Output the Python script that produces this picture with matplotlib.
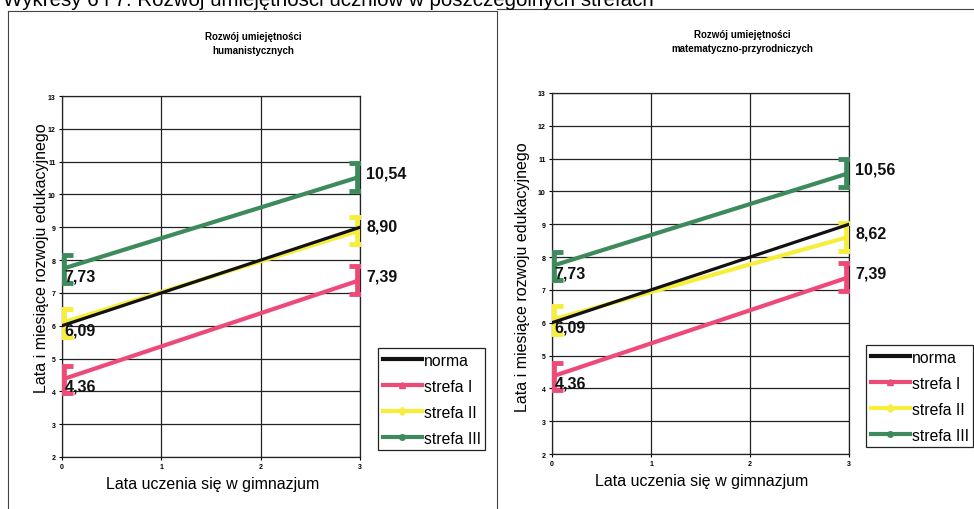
import matplotlib
matplotlib.use("Agg")
import matplotlib.pyplot as plt
from matplotlib.lines import Line2D

plt.rcParams['font.family'] = ['Liberation Sans', 'DejaVu Sans']

# ---- data ----
years = [0, 3]
series_names = ["norma", "strefa I", "strefa II", "strefa III"]
hum_norma = [6.0, 9.0]
hum_s1 = [4.36, 7.39]
hum_s2 = [6.09, 8.90]
hum_s3 = [7.73, 10.54]
mat_norma = [6.0, 9.0]
mat_s1 = [4.36, 7.39]
mat_s2 = [6.09, 8.62]
mat_s3 = [7.73, 10.56]
title_hum = "Rozwój umiejętności\nhumanistycznych"
title_mat = "Rozwój umiejętności\nmatematyczno-przyrodniczych"
header = "Wykresy 6 i 7. Rozwój umiejętności uczniów w poszczególnych strefach"
xlabel = "Lata uczenia się w gimnazjum"
ylabel = "Lata i miesiące rozwoju edukacyjnego"
yticks = list(range(2, 14))
xticks = [0, 1, 2, 3]

C_BLACK = "#111111"
C_PINK = "#EE4A78"
C_YEL = "#F6EE3A"
C_GREEN = "#3D8A5C"

W, H = 974, 510
fig = plt.figure(figsize=(W / 100, H / 100), dpi=100)


def fx(px):
    return px / W


def fy(py):
    return 1 - py / H


def make_panel(axbox, norma, s1, s2, s3):
    l, t, r, b = axbox
    ax = fig.add_axes([fx(l), fy(b), fx(r) - fx(l), fy(t) - fy(b)])
    ax.set_xlim(0, 3)
    ax.set_ylim(2, 13)
    ax.set_xticks(xticks)
    ax.set_yticks(yticks)
    ax.grid(True, color="#222222", linewidth=0.9)
    ax.set_axisbelow(True)
    for sp in ax.spines.values():
        sp.set_color("#222222")
        sp.set_linewidth(0.9)
    ax.tick_params(axis='both', labelsize=5, length=2.5, width=0.8, pad=2)
    for lab in ax.get_xticklabels() + ax.get_yticklabels():
        lab.set_fontweight('bold')
    ax.plot(years, norma, color=C_BLACK, linewidth=2.3, zorder=5)
    for vals, col in ((s1, C_PINK), (s2, C_YEL), (s3, C_GREEN)):
        ax.plot(years, vals, color=col, linewidth=3.0, zorder=4)
        ax.errorbar(years, vals, yerr=0.42, fmt='none', ecolor=col,
                    elinewidth=7, capsize=8, capthick=3.5, zorder=4)
        ax.annotate(f"{vals[0]:.2f}".replace('.', ','), (years[0], vals[0]),
                    xytext=(2, -5), textcoords='offset points',
                    ha='left', va='center', fontsize=11.5, fontweight='bold',
                    color="#111111", zorder=6, annotation_clip=False)
        ax.annotate(f"{vals[1]:.2f}".replace('.', ','), (years[1], vals[1]),
                    xytext=(4.5, 3), textcoords='offset points',
                    ha='left', va='center', fontsize=11.5, fontweight='bold',
                    color="#111111", zorder=6, annotation_clip=False)
    return ax


ax1 = make_panel((62, 97, 360, 458), hum_norma, hum_s1, hum_s2, hum_s3)
ax2 = make_panel((552, 94, 849, 455), mat_norma, mat_s1, mat_s2, mat_s3)

# titles
fig.text(fx(253), fy(44), title_hum, ha='center', va='center', fontsize=7,
         fontweight='bold', linespacing=1.6)
fig.text(fx(742), fy(42), title_mat, ha='center', va='center', fontsize=7,
         fontweight='bold', linespacing=1.6)

# axis labels
fig.text(fx(42), fy(258), ylabel, rotation=90, ha='center', va='center', fontsize=11.5)
fig.text(fx(522), fy(277), ylabel, rotation=90, ha='center', va='center', fontsize=11.5)
fig.text(fx(213), fy(485), xlabel, ha='center', va='center', fontsize=11.5)
fig.text(fx(702), fy(482), xlabel, ha='center', va='center', fontsize=11.5)

# legends
handles = [
    Line2D([], [], color=C_BLACK, linewidth=3),
    Line2D([], [], color=C_PINK, linewidth=3, marker='^', markersize=5),
    Line2D([], [], color=C_YEL, linewidth=3, marker='D', markersize=4),
    Line2D([], [], color=C_GREEN, linewidth=3, marker='o', markersize=4),
]
for (lx, ly) in ((378, 349), (866, 346)):
    leg = fig.legend(handles, series_names, loc='upper left',
                     bbox_to_anchor=(fx(lx), fy(ly)), bbox_transform=fig.transFigure,
                     fontsize=11.3, frameon=True, fancybox=False, framealpha=1,
                     edgecolor="#222222", handlelength=2.5, handletextpad=0.1,
                     labelspacing=0.7, borderpad=0.3, borderaxespad=0)
    leg.get_frame().set_linewidth(0.9)

# panel frames
fig.add_artist(Line2D([fx(8), fx(497)], [fy(12), fy(12)], color="#444444", linewidth=0.8))
fig.add_artist(Line2D([fx(8), fx(8)], [fy(12), fy(510)], color="#444444", linewidth=0.8))
fig.add_artist(Line2D([fx(497), fx(497)], [fy(12), fy(510)], color="#444444", linewidth=0.8))
fig.add_artist(Line2D([fx(497), fx(974)], [fy(10), fy(10)], color="#444444", linewidth=0.8))

# header (cut off at top in the source)
fig.text(fx(3), fy(6), header, ha='left', va='baseline', fontsize=14.8)

fig.savefig("out.png", dpi=100)
